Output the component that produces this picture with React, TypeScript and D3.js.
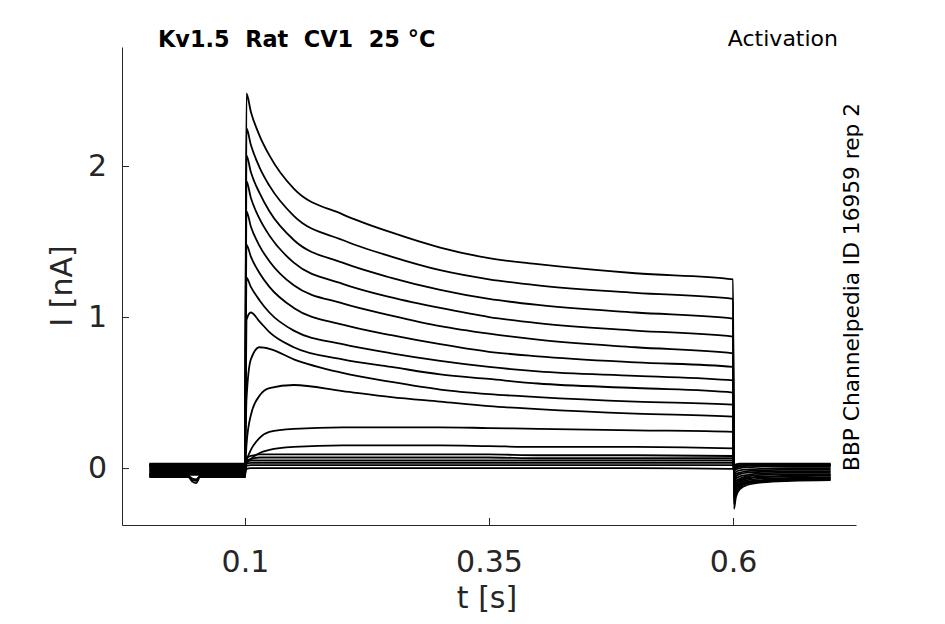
import * as d3 from "d3";
import React, { useEffect, useRef } from "react";

// sample times (s) for the holding period, the test pulse and the tail
const baseTimes = [0.002, 0.042, 0.046, 0.05, 0.054, 0.1];
const stepTimes = [0.1015, 0.106, 0.115, 0.125, 0.15, 0.2, 0.25, 0.3, 0.35, 0.4, 0.5, 0.6];
const tailTimes = [0.601, 0.603, 0.607, 0.615, 0.63, 0.66, 0.7];

const baseCurrents = [
  [-0.04, -0.04, -0.04, -0.04, -0.04, -0.04],
  [-0.02, -0.02, -0.02, -0.02, -0.02, -0.02],
  [0.01, 0.01, 0.01, 0.01, 0.01, 0.01],
  [-0.05, -0.05, -0.08, -0.085, -0.05, -0.045],
  [0.02, 0.02, 0.02, 0.02, 0.02, 0.02],
  [-0.03, -0.03, -0.03, -0.03, -0.03, -0.03],
  [0.0, 0.0, 0.0, 0.0, 0.0, 0.0],
  [-0.06, -0.06, -0.09, -0.1, -0.06, -0.06],
  [0.03, 0.03, 0.03, 0.03, 0.03, 0.03],
  [-0.01, -0.01, -0.01, -0.01, -0.01, -0.01],
  [0.015, 0.015, 0.015, 0.015, 0.015, 0.015],
  [-0.045, -0.045, -0.045, -0.045, -0.045, -0.045],
  [0.025, 0.025, 0.025, 0.025, 0.025, 0.025],
  [-0.035, -0.035, -0.035, -0.035, -0.035, -0.035],
  [0.005, 0.005, 0.005, 0.005, 0.005, 0.005],
  [-0.055, -0.055, -0.07, -0.075, -0.055, -0.055],
  [0.02, 0.02, 0.02, 0.02, 0.02, 0.02],
  [-0.015, -0.015, -0.015, -0.015, -0.015, -0.015],
];

const stepCurrents = [
  [2.48, 2.36, 2.2, 2.07, 1.85, 1.68, 1.56, 1.46, 1.39, 1.35, 1.29, 1.25],
  [2.25, 2.14, 1.99, 1.87, 1.67, 1.51, 1.4, 1.31, 1.25, 1.21, 1.16, 1.12],
  [2.07, 1.96, 1.82, 1.7, 1.51, 1.36, 1.26, 1.18, 1.12, 1.08, 1.03, 0.99],
  [1.9, 1.79, 1.65, 1.54, 1.36, 1.22, 1.13, 1.06, 1.0, 0.96, 0.91, 0.87],
  [1.7, 1.6, 1.47, 1.37, 1.21, 1.09, 1.01, 0.94, 0.89, 0.85, 0.8, 0.76],
  [1.48, 1.4, 1.29, 1.2, 1.06, 0.95, 0.88, 0.82, 0.77, 0.74, 0.7, 0.67],
  [1.26, 1.2, 1.11, 1.03, 0.91, 0.82, 0.76, 0.71, 0.67, 0.64, 0.61, 0.58],
  [0.98, 1.03, 0.97, 0.9, 0.8, 0.72, 0.67, 0.62, 0.59, 0.56, 0.53, 0.5],
  [0.45, 0.72, 0.8, 0.79, 0.72, 0.63, 0.57, 0.52, 0.49, 0.47, 0.44, 0.42],
  [0.15, 0.35, 0.48, 0.53, 0.55, 0.51, 0.47, 0.44, 0.41, 0.39, 0.36, 0.34],
  [0.05, 0.12, 0.2, 0.24, 0.26, 0.27, 0.27, 0.27, 0.265, 0.26, 0.25, 0.24],
  [0.03, 0.06, 0.1, 0.12, 0.14, 0.15, 0.15, 0.15, 0.145, 0.14, 0.14, 0.13],
  [0.07, 0.08, 0.09, 0.09, 0.09, 0.09, 0.09, 0.09, 0.09, 0.085, 0.085, 0.08],
  [0.05, 0.06, 0.07, 0.07, 0.07, 0.07, 0.07, 0.07, 0.07, 0.065, 0.065, 0.065],
  [0.04, 0.05, 0.05, 0.05, 0.05, 0.05, 0.05, 0.05, 0.05, 0.05, 0.05, 0.05],
  [0.03, 0.035, 0.035, 0.035, 0.035, 0.035, 0.035, 0.035, 0.035, 0.035, 0.035, 0.035],
  [0.015, 0.02, 0.02, 0.02, 0.02, 0.02, 0.02, 0.02, 0.02, 0.02, 0.02, 0.02],
  [-0.005, 0.0, 0.0, 0.0, 0.0, 0.0, 0.0, 0.0, 0.0, 0.0, 0.0, -0.005],
];

const tailCurrents = [
  [-0.27, -0.19, -0.14, -0.11, -0.095, -0.085, -0.08],
  [-0.24, -0.17, -0.13, -0.1, -0.09, -0.08, -0.075],
  [-0.22, -0.155, -0.12, -0.095, -0.085, -0.075, -0.07],
  [-0.2, -0.14, -0.11, -0.09, -0.08, -0.07, -0.065],
  [-0.18, -0.13, -0.1, -0.08, -0.07, -0.065, -0.06],
  [-0.16, -0.115, -0.09, -0.07, -0.06, -0.055, -0.05],
  [-0.14, -0.1, -0.08, -0.065, -0.055, -0.05, -0.045],
  [-0.12, -0.085, -0.07, -0.055, -0.045, -0.04, -0.04],
  [-0.1, -0.07, -0.055, -0.045, -0.035, -0.03, -0.03],
  [-0.08, -0.055, -0.04, -0.03, -0.025, -0.02, -0.02],
  [-0.06, -0.04, -0.03, -0.02, -0.015, -0.01, -0.01],
  [-0.04, -0.025, -0.015, -0.01, -0.005, 0.0, 0.0],
  [-0.02, -0.01, 0.0, 0.005, 0.01, 0.01, 0.01],
  [-0.01, 0.0, 0.01, 0.015, 0.015, 0.015, 0.015],
  [0.0, 0.01, 0.015, 0.02, 0.02, 0.02, 0.02],
  [0.01, 0.015, 0.02, 0.025, 0.025, 0.025, 0.025],
  [0.02, 0.025, 0.03, 0.03, 0.03, 0.03, 0.03],
  [0.01, 0.015, 0.02, 0.02, 0.02, 0.02, 0.02],
];

const xTicks = [0.1, 0.35, 0.6];
const yTicks = [0, 1, 2];

const titleText = "Kv1.5  Rat  CV1  25 °C";
const protocolText = "Activation";
const sourceText = "BBP Channelpedia ID 16959 rep 2";

function TraceChart({
  width = 945,
  height = 624,
  marginLeft = 122,
  marginRight = 89,
  marginTop = 47,
  marginBottom = 99,
}) {
  const svgRef = useRef<SVGSVGElement>(null);

  useEffect(() => {
    if (!svgRef.current) return;
    const axisColor = "#262626";
    const font = "DejaVu Sans, sans-serif";

    const xScale = d3.scaleLinear([-0.026, 0.726], [marginLeft, width - marginRight]);
    const yScale = d3.scaleLinear([-0.377, 2.788], [height - marginBottom, marginTop]);

    const sweeps = stepCurrents.map((step, i) => [
      ...baseTimes.map((t, j) => [t, baseCurrents[i][j]] as [number, number]),
      ...stepTimes.map((t, j) => [t, step[j]] as [number, number]),
      ...tailTimes.map((t, j) => [t, tailCurrents[i][j]] as [number, number]),
    ]);

    const line = d3
      .line<[number, number]>()
      .x((d) => xScale(d[0]))
      .y((d) => yScale(d[1]))
      .curve(d3.curveMonotoneX);

    const svg = d3
      .select(svgRef.current)
      .attr("width", width)
      .attr("height", height)
      .attr("viewBox", [0, 0, width, height]);

    svg
      .append("g")
      .attr("fill", "none")
      .attr("stroke", "#000")
      .attr("stroke-width", 1.8)
      .attr("stroke-linejoin", "round")
      .selectAll("path")
      .data(sweeps)
      .join("path")
      .attr("d", (d) => line(d));

    // x axis, ticks pointing inward
    const xAxis = d3
      .axisBottom(xScale)
      .tickValues(xTicks)
      .tickSize(-7)
      .tickSizeOuter(0)
      .tickPadding(26)
      .tickFormat((d) => String(d));
    svg
      .append("g")
      .attr("transform", `translate(0,${height - marginBottom})`)
      .call(xAxis)
      .call((g) => g.select(".domain").attr("stroke", axisColor))
      .call((g) => g.selectAll(".tick line").attr("stroke", axisColor))
      .call((g) =>
        g
          .selectAll(".tick text")
          .attr("fill", axisColor)
          .attr("font-family", font)
          .attr("font-size", 30)
      );

    const yAxis = d3
      .axisLeft(yScale)
      .tickValues(yTicks)
      .tickSize(-7)
      .tickSizeOuter(0)
      .tickPadding(15)
      .tickFormat((d) => String(d));
    svg
      .append("g")
      .attr("transform", `translate(${marginLeft},0)`)
      .call(yAxis)
      .call((g) => g.select(".domain").attr("stroke", axisColor))
      .call((g) => g.selectAll(".tick line").attr("stroke", axisColor))
      .call((g) =>
        g
          .selectAll(".tick text")
          .attr("fill", axisColor)
          .attr("font-family", font)
          .attr("font-size", 30)
      );

    svg
      .append("text")
      .attr("x", 487)
      .attr("y", 608)
      .attr("text-anchor", "middle")
      .attr("fill", axisColor)
      .attr("font-family", font)
      .attr("font-size", 30)
      .text("t [s]");

    svg
      .append("text")
      .attr("transform", `translate(72,${(marginTop + height - marginBottom) / 2}) rotate(-90)`)
      .attr("text-anchor", "middle")
      .attr("fill", axisColor)
      .attr("font-family", font)
      .attr("font-size", 30)
      .text("I [nA]");

    svg
      .append("text")
      .attr("x", 158)
      .attr("y", 47)
      .attr("fill", "#000")
      .attr("font-family", font)
      .attr("font-weight", "bold")
      .attr("font-size", 22.4)
      .style("white-space", "pre")
      .text(titleText);

    svg
      .append("text")
      .attr("x", 838)
      .attr("y", 46)
      .attr("text-anchor", "end")
      .attr("fill", "#000")
      .attr("font-family", font)
      .attr("font-size", 22)
      .text(protocolText);

    svg
      .append("text")
      .attr("transform", "translate(859,287) rotate(-90)")
      .attr("text-anchor", "middle")
      .attr("fill", "#000")
      .attr("font-family", font)
      .attr("font-size", 21.7)
      .text(sourceText);

    return () => {
      d3.select(svgRef.current).selectAll("*").remove();
    };
  }, []);

  return <svg ref={svgRef} style={{ position: "absolute", left: 0, top: 0 }} />;
}

export default function App() {
  return <TraceChart />;
}
